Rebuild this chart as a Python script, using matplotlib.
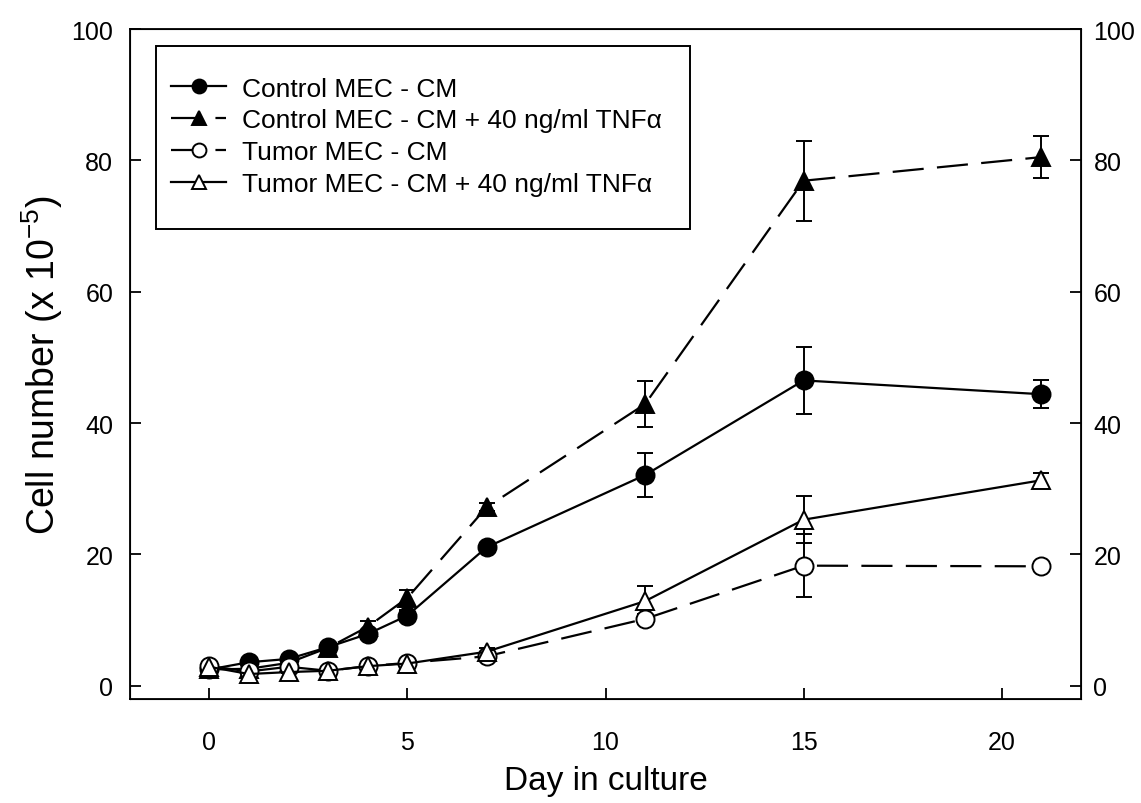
import numpy as np
import matplotlib
matplotlib.use("Agg")
import matplotlib.pyplot as plt
from matplotlib.lines import Line2D
from matplotlib.patches import Rectangle

plt.rcParams['font.family'] = ['Liberation Sans', 'DejaVu Sans']

# days sampled
days = [0, 1, 2, 3, 4, 5, 7, 11, 15, 21]

# Control MEC - CM (filled circle, solid)
ctrl = [2.5, 3.6, 4.1, 5.9, 7.9, 10.7, 21.1, 32.1, 46.5, 44.4]
ctrl_err = [0.3, 0.3, 0.3, 0.4, 0.6, 0.8, 0.7, 3.4, 5.1, 2.1]

# Control MEC - CM + TNFa (filled triangle, dashed)
ctrl_tnf = [2.5, 2.6, 3.5, 5.8, 9.0, 13.4, 27.2, 42.9, 76.9, 80.5]
ctrl_tnf_err = [0.3, 0.3, 0.3, 0.4, 0.9, 1.2, 0.6, 3.5, 6.1, 3.2]

# Tumor MEC - CM (open circle, dashed)
tumor = [3.0, 2.2, 2.9, 2.3, 3.0, 3.5, 4.5, 10.2, 18.3, 18.2]
tumor_err = [0.3, 0.2, 0.3, 0.2, 0.3, 0.3, 0.4, 0.8, 4.8, 0.4]

# Tumor MEC - CM + TNFa (open triangle, solid)
tumor_tnf = [2.9, 1.8, 2.1, 2.3, 3.0, 3.4, 5.2, 12.9, 25.3, 31.3]
tumor_tnf_err = [0.3, 0.2, 0.2, 0.2, 0.3, 0.3, 0.5, 2.3, 3.6, 1.1]

labels = ["Control MEC - CM",
          "Control MEC - CM + 40 ng/ml TNFα",
          "Tumor MEC - CM",
          "Tumor MEC - CM + 40 ng/ml TNFα"]

fig = plt.figure(figsize=(11.41, 8.04), dpi=100)
ax = fig.add_axes([130 / 1141, 1 - 700 / 804, 951 / 1141, 670 / 804])

dash = (0, (14, 6))
common = dict(color='black', lw=1.6, ms=13, capsize=5.5, elinewidth=1.4,
              capthick=1.4, mec='black', mew=1.4)

styles = [('o', 'black', '-'), ('^', 'black', dash),
          ('o', 'white', dash), ('^', 'white', '-')]
series = [(ctrl, ctrl_err), (ctrl_tnf, ctrl_tnf_err),
          (tumor, tumor_err), (tumor_tnf, tumor_tnf_err)]

handles = []
for (vals, err), (mk, fc, ls), lab in zip(series, styles, labels):
    ax.errorbar(days, vals, yerr=err, marker=mk, mfc=fc, ls=ls, **common)
    handles.append(Line2D([], [], color='black', lw=1.6, ls=ls, marker=mk,
                          mfc=fc, mec='black', mew=1.4, ms=10, label=lab))

ax.set_xlim(-2, 22)
ax.set_ylim(-2, 100)
ax.set_xticks([0, 5, 10, 15, 20])
ax.set_yticks([0, 20, 40, 60, 80, 100])
ax.tick_params(direction='in', length=8, width=1.3, labelsize=18)
ax.tick_params(axis='x', pad=22)
ax.tick_params(axis='y', pad=12)
for s in ax.spines.values():
    s.set_linewidth(1.3)

ax2 = ax.twinx()
ax2.set_ylim(ax.get_ylim())
ax2.set_yticks([0, 20, 40, 60, 80, 100])
ax2.tick_params(direction='in', length=8, width=1.3, labelsize=18, pad=9)

ax.set_xlabel("Day in culture", fontsize=24, labelpad=8)
ax.set_ylabel("Cell number (x 10$^{\\mathregular{-5}}$)", fontsize=27, labelpad=5)

# legend without its own frame, box drawn separately
leg = ax.legend(handles=handles, loc='upper left', bbox_to_anchor=(0.043, 0.929),
                borderaxespad=0, fontsize=19, frameon=False,
                handlelength=2.1, handletextpad=0.6,
                labelspacing=0.3, borderpad=0)
ax.add_patch(Rectangle((0.0273, 0.7015), 0.5615, 0.273, transform=ax.transAxes,
                       fill=False, edgecolor='black', lw=1.4, zorder=5))

fig.savefig("out.png", dpi=100)
